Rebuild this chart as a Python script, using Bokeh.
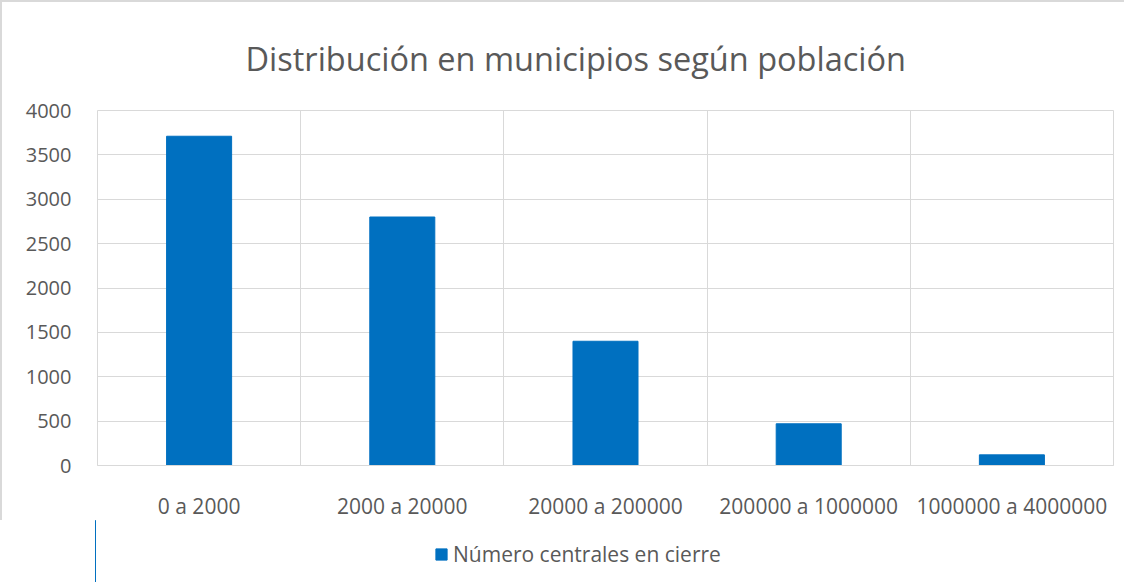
from bokeh.plotting import figure
from bokeh.layouts import column
from bokeh.models import (ColumnDataSource, FixedTicker, Range1d, Legend, LegendItem, Title)
from bokeh.embed import file_html
from bokeh.resources import INLINE

categories = ["0 a 2000", "2000 a 20000", "20000 a 200000", "200000 a 1000000", "1000000 a 4000000"]
values = [3710, 2800, 1400, 470, 120]
series_name = "Número centrales en cierre"
title_text = "Distribución en municipios según población"
y_ticks = [0, 500, 1000, 1500, 2000, 2500, 3000, 3500, 4000]

FONT = "Open Sans"
TXT = "#595959"
GRID = "#d9d9d9"
BAR = "#0070c0"

pos = [i + 0.5 for i in range(len(categories))]
src = ColumnDataSource(dict(x=pos, top=values, cat=categories))

p = figure(width=1124, height=520, output_backend="svg", toolbar_location=None,
           x_range=Range1d(0, len(categories)), y_range=Range1d(0, 4000),
           min_border_left=95, min_border_right=13, min_border_top=108, min_border_bottom=50)
p.styles = {"border-left": "2px solid #d9d9d9", "border-top": "2px solid #d9d9d9"}

r = p.vbar(x="x", top="top", width=0.32, source=src, color=BAR)

t = Title(text=title_text, align="left", text_font=FONT, text_font_size="32.5px",
          text_font_style="normal", text_color=TXT, offset=148, standoff=60)
p.add_layout(t, "above")

p.xaxis.ticker = FixedTicker(ticks=pos)
p.xaxis.major_label_overrides = {x: c for x, c in zip(pos, categories)}
p.xaxis.major_label_text_font = FONT
p.xaxis.major_label_text_font_size = "21px"
p.xaxis.major_label_text_color = TXT
p.xaxis.major_label_standoff = 20
p.xaxis.major_tick_line_color = None
p.xaxis.minor_tick_line_color = None
p.xaxis.axis_line_color = GRID

p.yaxis.ticker = FixedTicker(ticks=y_ticks)
p.yaxis.major_label_text_font = FONT
p.yaxis.major_label_text_font_size = "20px"
p.yaxis.major_label_text_color = TXT
p.yaxis.major_label_standoff = 20
p.yaxis.major_tick_line_color = None
p.yaxis.minor_tick_line_color = None
p.yaxis.axis_line_color = None

p.xgrid.ticker = FixedTicker(ticks=list(range(len(categories) + 1)))
p.xgrid.grid_line_color = GRID
p.ygrid.grid_line_color = GRID
p.outline_line_color = GRID
p.outline_line_width = 1

# legend strip below the chart
p2 = figure(width=1124, height=62, output_backend="svg", toolbar_location=None,
            x_range=Range1d(100, 101), y_range=Range1d(100, 101), min_border=0,
            x_axis_type=None, y_axis_type=None)
p2.outline_line_color = None
p2.xgrid.visible = False
p2.ygrid.visible = False
r2 = p2.vbar(x="x", top="top", width=0.32, source=src, color=BAR)

legend = Legend(items=[LegendItem(label=series_name, renderers=[r2])],
                location=(339, 14), orientation="horizontal",
                label_text_font=FONT, label_text_font_size="21px", label_text_color=TXT,
                glyph_width=14, glyph_height=14, label_standoff=5, label_height=24,
                border_line_color=None, background_fill_alpha=0, padding=0, margin=0)
p2.add_layout(legend, "center")

layout = column(p, p2, spacing=0)
open("out.html", "w").write(file_html(layout, INLINE))
